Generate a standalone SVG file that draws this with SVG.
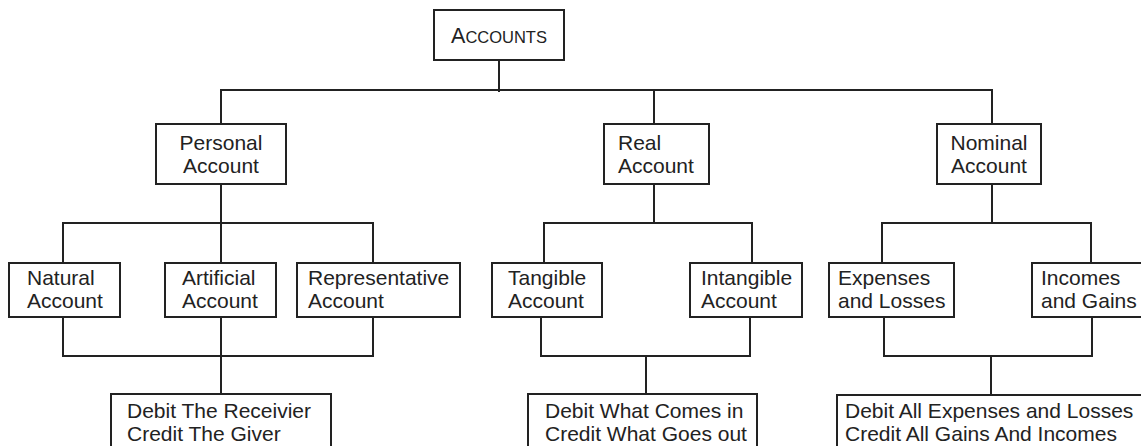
<svg xmlns="http://www.w3.org/2000/svg" width="1141" height="446" viewBox="0 0 1141 446">
<style>
.box{fill:#fff;stroke:#222;stroke-width:2}
.t{font-family:"Liberation Sans",Arial,sans-serif;font-size:21px;fill:#222}
.c{text-anchor:middle}
.conn{fill:none;stroke:#222;stroke-width:2}
</style>
<rect width="1141" height="446" fill="#fff"/>
<g id="connectors" class="conn">
<path d="M499 60V92"/>
<path d="M221 124V90H992V124"/>
<path d="M654 90V124"/>
<path d="M221 184V263"/>
<path d="M63 263V223H373V263"/>
<path d="M63 317V356H373V317"/>
<path d="M221 317V394"/>
<path d="M654 184V223"/>
<path d="M544 263V223H752V263"/>
<path d="M541 317V356H750V317"/>
<path d="M646 356V394"/>
<path d="M992 184V223"/>
<path d="M882 263V223H1091V263"/>
<path d="M884 317V356H1092V317"/>
<path d="M991 356V395"/>
</g>
<g id="accounts">
<rect class="box" x="434" y="10" width="130" height="50"/>
<text class="t c" x="499" y="43"><tspan font-size="21.5">A</tspan><tspan font-size="16.5">CCOUNTS</tspan></text>
</g>
<g id="personal">
<rect class="box" x="156" y="124" width="130" height="60"/>
<text class="t c" x="221" y="150">Personal</text>
<text class="t c" x="221" y="173">Account</text>
</g>
<g id="real">
<rect class="box" x="604" y="124" width="105" height="60"/>
<text class="t" x="618" y="150">Real</text>
<text class="t" x="618" y="173">Account</text>
</g>
<g id="nominal">
<rect class="box" x="937" y="124" width="104" height="60"/>
<text class="t c" x="989" y="150">Nominal</text>
<text class="t c" x="989" y="173">Account</text>
</g>
<g id="natural">
<rect class="box" x="9" y="263" width="111" height="54"/>
<text class="t" x="27" y="285">Natural</text>
<text class="t" x="27" y="308">Account</text>
</g>
<g id="artificial">
<rect class="box" x="165" y="263" width="111" height="54"/>
<text class="t" x="182" y="285">Artificial</text>
<text class="t" x="182" y="308">Account</text>
</g>
<g id="representative">
<rect class="box" x="297" y="263" width="163" height="54"/>
<text class="t" x="308" y="285">Representative</text>
<text class="t" x="308" y="308">Account</text>
</g>
<g id="tangible">
<rect class="box" x="492" y="263" width="110" height="54"/>
<text class="t" x="508" y="285">Tangible</text>
<text class="t" x="508" y="308">Account</text>
</g>
<g id="intangible">
<rect class="box" x="690" y="263" width="112" height="54"/>
<text class="t" x="701" y="285">Intangible</text>
<text class="t" x="701" y="308">Account</text>
</g>
<g id="expenses">
<rect class="box" x="829" y="263" width="125" height="54"/>
<text class="t" x="838" y="285">Expenses</text>
<text class="t" x="838" y="308">and Losses</text>
</g>
<g id="incomes">
<rect class="box" x="1032" y="263" width="120" height="54"/>
<text class="t" x="1041" y="285">Incomes</text>
<text class="t" x="1041" y="308">and Gains</text>
</g>
<g id="personal-rule">
<rect class="box" x="111" y="394" width="220" height="60"/>
<text class="t" x="127" y="418">Debit The Receivier</text>
<text class="t" x="127" y="441">Credit The Giver</text>
</g>
<g id="real-rule">
<rect class="box" x="528" y="394" width="229" height="60"/>
<text class="t" x="545" y="418">Debit What Comes in</text>
<text class="t" x="545" y="441">Credit What Goes out</text>
</g>
<g id="nominal-rule">
<rect class="box" x="837" y="395" width="320" height="60"/>
<text class="t" x="845" y="418">Debit All Expenses and Losses</text>
<text class="t" x="845" y="441">Credit All Gains And Incomes</text>
</g>
</svg>
